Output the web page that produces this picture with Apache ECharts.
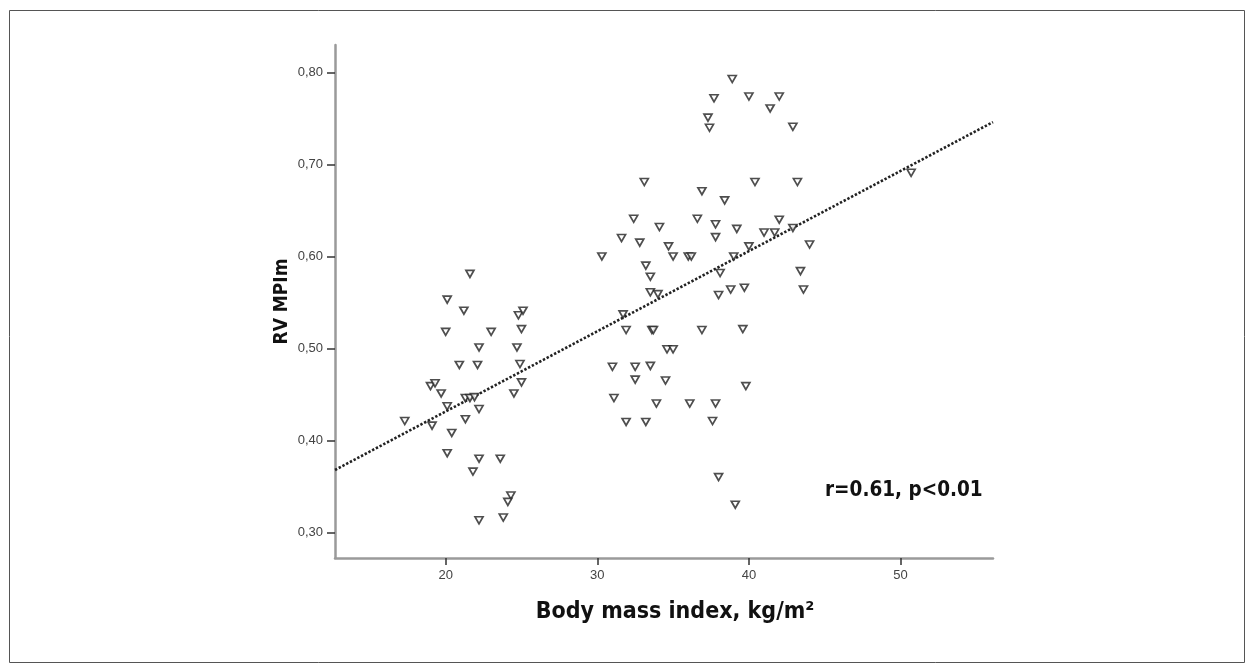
<!DOCTYPE html>
<html>
<head>
<meta charset="utf-8">
<script src="https://cdn.jsdelivr.net/npm/echarts@6/dist/echarts.min.js"></script>
<style>
  html, body { margin: 0; padding: 0; background: #fff; }
  #chart { width: 1254px; height: 672px; }
</style>
</head>
<body>
<div id="chart"></div>
<script>
// BMI (kg/m2) of each patient
const bmi = [
  21.6, 20.1, 21.2, 24.8, 25.1, 20.0, 23.0, 25.0, 22.2, 24.7, 20.9, 22.1, 24.9,
  19.0, 19.3, 19.7, 25.0, 24.5, 21.3, 21.6, 21.9, 20.1, 22.2, 21.3, 17.3, 19.1,
  20.4, 20.1, 22.2, 23.6, 21.8, 24.3, 24.1, 22.2, 23.8,
  33.1, 36.9, 32.4, 34.1, 36.6, 31.6, 32.8, 34.7, 30.3, 35.0, 36.0, 36.2, 33.2,
  33.5, 33.5, 34.0, 31.7, 31.9, 33.6, 33.7, 36.9, 34.6, 35.0, 31.0, 32.5, 33.5,
  32.5, 34.5, 31.1, 33.9, 36.1, 31.9, 33.2,
  38.9, 37.7, 40.0, 42.0, 41.4, 37.3, 37.4, 42.9, 40.4, 43.2, 38.4, 42.0, 37.8,
  39.2, 41.0, 41.7, 42.9, 37.8, 40.0, 44.0, 39.0, 38.1, 43.4, 38.0, 38.8, 39.7,
  43.6, 39.6, 39.8, 37.8, 37.6, 38.0, 39.1, 50.7
];
// RV MPI (myocardial performance index) for the same patients
const rvMpi = [
  0.581, 0.553, 0.541, 0.536, 0.541, 0.518, 0.518, 0.521, 0.501, 0.501, 0.482, 0.482, 0.483,
  0.459, 0.462, 0.451, 0.463, 0.451, 0.446, 0.446, 0.447, 0.437, 0.434, 0.423, 0.421, 0.416,
  0.408, 0.386, 0.380, 0.380, 0.366, 0.340, 0.333, 0.313, 0.316,
  0.681, 0.671, 0.641, 0.632, 0.641, 0.620, 0.615, 0.611, 0.600, 0.600, 0.600, 0.600, 0.590,
  0.578, 0.561, 0.559, 0.537, 0.520, 0.520, 0.520, 0.520, 0.499, 0.499, 0.480, 0.480, 0.481,
  0.466, 0.465, 0.446, 0.440, 0.440, 0.420, 0.420,
  0.793, 0.772, 0.774, 0.774, 0.761, 0.751, 0.740, 0.741, 0.681, 0.681, 0.661, 0.640, 0.635,
  0.630, 0.626, 0.626, 0.631, 0.621, 0.611, 0.613, 0.600, 0.582, 0.584, 0.558, 0.564, 0.566,
  0.564, 0.521, 0.459, 0.440, 0.421, 0.360, 0.330, 0.691
];

const xTicks = [20, 30, 40, 50];
const yTicks = [0.3, 0.4, 0.5, 0.6, 0.7, 0.8];

// fitted line y = a + b * x (as drawn)
const fitA = 0.257;
const fitB = 0.00872;

const xMin = 12.7, xMax = 56.1;
const yMin = 0.272, yMax = 0.83;

const points = bmi.map((x, i) => [x, rvMpi[i]]);
const fitLine = [xMin, xMax].map(x => [x, fitA + fitB * x]);

const narrowBold = "'Liberation Sans Narrow', 'DejaVu Sans Condensed', 'Arial Narrow', sans-serif";

const chart = echarts.init(document.getElementById('chart'));

const option = {
    backgroundColor: '#fff',
    animation: false,
    grid: {
        left: 335,
        top: 45,
        right: 261,
        bottom: 114,
        containLabel: false,
        outerBoundsMode: 'none'
    },
    xAxis: {
        type: 'value',
        min: xMin,
        max: xMax,
        name: 'Body mass index, kg/m²',
        nameLocation: 'middle',
        nameGap: 43,
        nameMoveOverlap: false,
        nameTextStyle: {
            fontFamily: narrowBold,
            fontWeight: 'bold',
            fontSize: 23,
            color: '#111',
            padding: [0, 0, 0, 22]
        },
        axisLine: {lineStyle: {color: '#9a9a9a', width: 2.5}},
        axisTick: {
            customValues: xTicks,
            length: 7,
            lineStyle: {color: '#333', width: 1.5}
        },
        axisLabel: {
            customValues: xTicks,
            margin: 11,
            fontSize: 13,
            color: '#444',
            fontFamily: 'Liberation Sans, Arial, sans-serif'
        },
        splitLine: {show: false}
    },
    yAxis: {
        type: 'value',
        min: yMin,
        max: yMax,
        name: 'RV MPIm',
        nameLocation: 'middle',
        nameGap: 43,
        nameMoveOverlap: false,
        nameTextStyle: {
            fontFamily: narrowBold,
            fontWeight: 'bold',
            fontSize: 19,
            color: '#111'
        },
        axisLine: {show: true, lineStyle: {color: '#9a9a9a', width: 2.5}},
        axisTick: {
            show: true,
            customValues: yTicks,
            length: 8,
            lineStyle: {color: '#333', width: 1.5}
        },
        axisLabel: {
            customValues: yTicks,
            margin: 12,
            fontSize: 13,
            color: '#444',
            fontFamily: 'Liberation Sans, Arial, sans-serif',
            formatter: v => v.toFixed(2).replace('.', ',')
        },
        splitLine: {show: false}
    },
    series: [{
        type: 'line',
        data: fitLine,
        showSymbol: false,
        silent: true,
        z: 1,
        lineStyle: {color: '#222', width: 2.6, type: [2.4, 1.8]}
    }, {
        type: 'scatter',
        data: points,
        symbol: 'triangle',
        symbolRotate: 180,
        symbolSize: [8, 7],
        z: 2,
        itemStyle: {color: '#fff', borderColor: '#222', borderWidth: 1.7}
    }],
    graphic: [{
        type: 'rect',
        shape: {x: 9.5, y: 10.5, width: 1235, height: 652},
        style: {fill: null, stroke: '#555', lineWidth: 1},
        silent: true
    }, {
        type: 'text',
        left: 825,
        top: 480,
        style: {
            text: 'r=0.61, p<0.01',
            fontFamily: narrowBold,
            fontWeight: 'bold',
            fontSize: 20.5,
            fill: '#111'
        }
    }]
};

chart.setOption(option);
</script>
</body>
</html>
